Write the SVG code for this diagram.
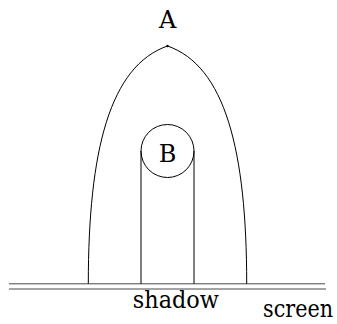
<svg xmlns="http://www.w3.org/2000/svg" width="337" height="324" viewBox="0 0 337 324">
<style>
text{font-family:'DejaVu Serif','Liberation Serif',serif;font-size:24px;fill:#000;text-anchor:middle}
.s{fill:none;stroke:#000;stroke-width:1}
.g{fill:none;stroke:#333;stroke-width:0.9}
</style>
<rect width="337" height="324" fill="#fff"/>
<g id="connectors">
<path class="s" d="M88.3,284 C88.3,150 110,66 167.5,46"/>
<path class="s" d="M246.7,284 C246.7,150 225,66 167.5,46"/>
<line class="s" x1="141" y1="151" x2="141" y2="284"/>
<line class="s" x1="194" y1="151" x2="194" y2="284"/>
</g>
<g id="A">
<circle cx="167.5" cy="46" r="1.2" fill="#000"/>
<text x="167.7" y="28.3" font-size="22">A</text>
</g>
<g id="B">
<circle class="s" cx="167.5" cy="151" r="26.5" fill="#fff"/>
<text x="167.5" y="161.5" font-size="22">B</text>
</g>
<g id="screen">
<line class="g" x1="9" y1="283.8" x2="325" y2="283.8"/>
<line class="g" x1="9" y1="289" x2="326" y2="289"/>
<text x="175.8" y="308.3" textLength="86" lengthAdjust="spacingAndGlyphs">shadow</text>
<text x="298" y="317" font-size="21" textLength="70" lengthAdjust="spacingAndGlyphs">screen</text>
</g>
</svg>
